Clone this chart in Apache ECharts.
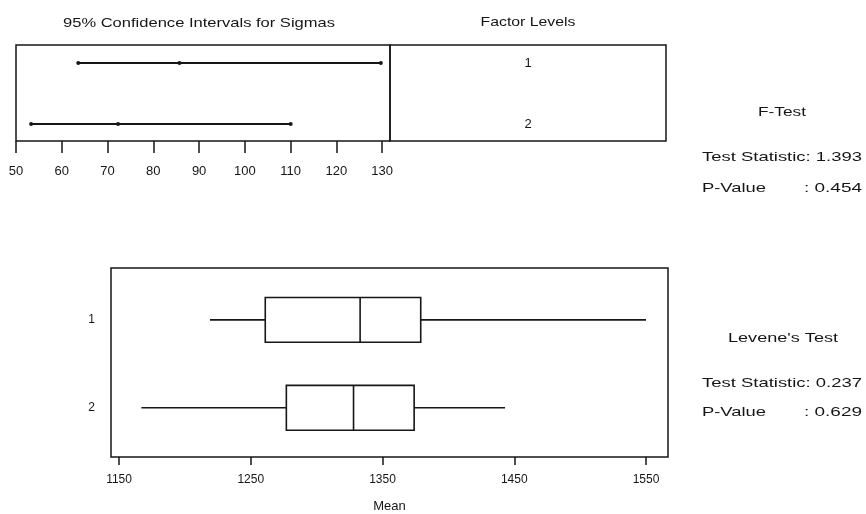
<!DOCTYPE html>
<html><head><meta charset="utf-8">
<script src="https://cdn.jsdelivr.net/npm/echarts@6/dist/echarts.min.js"></script>
<style>html,body{margin:0;padding:0;background:#fff}#c{width:866px;height:514px}</style>
</head><body><div id="c"></div>
<script>
// ---- data ----
const factorLevels = ['1', '2'];
const sigmaLower  = [63.6, 53.3];
const sigmaCenter = [85.7, 72.3];
const sigmaUpper  = [129.7, 110.0];
const sigmaTicks  = [50, 60, 70, 80, 90, 100, 110, 120, 130];
const boxMin    = [1219, 1167];
const boxQ1     = [1261, 1277];
const boxMedian = [1333, 1328];
const boxQ3     = [1379, 1374];
const boxMax    = [1550, 1443];
const meanTicks = [1150, 1250, 1350, 1450, 1550];
const fTestStat = '1.393', fTestP = '0.454';
const leveneStat = '0.237', leveneP = '0.629';

// ---- chart ----
const FONT = '"Liberation Sans", Arial, sans-serif';
const ink = '#161616';
const chart = echarts.init(document.getElementById('c'), null, {renderer: 'canvas'});

const intervalData = factorLevels.map((f, i) => [i + 1, sigmaLower[i], sigmaCenter[i], sigmaUpper[i]]);
const boxData = factorLevels.map((f, i) => [i + 1, boxMin[i], boxQ1[i], boxMedian[i], boxQ3[i], boxMax[i]]);

const option = {
  animation: false,
  backgroundColor: '#fff',
  textStyle: {fontFamily: FONT},
  grid: [
    {left: 16, top: 45, width: 374, height: 96, show: true, borderColor: ink, borderWidth: 1.5, backgroundColor: 'transparent'},
    {left: 111, top: 268, width: 557, height: 189, show: true, borderColor: ink, borderWidth: 1.5, backgroundColor: 'transparent'}
  ],
  xAxis: [
    {gridIndex: 0, type: 'value', min: 50, max: 131.7,
      axisLine: {show: false}, splitLine: {show: false},
      axisTick: {show: true, length: 12, customValues: sigmaTicks, lineStyle: {color: ink, width: 1.5}},
      axisLabel: {customValues: sigmaTicks, formatter: v => String(v), margin: 24, fontSize: 13, color: ink, fontFamily: FONT}},
    {gridIndex: 1, type: 'value', min: 1143.9, max: 1566.7,
      name: 'Mean', nameLocation: 'middle', nameGap: 43,
      nameTextStyle: {fontSize: 13, color: ink, fontFamily: FONT},
      axisLine: {show: false}, splitLine: {show: false},
      axisTick: {show: true, length: 8, customValues: meanTicks, lineStyle: {color: ink, width: 1.5}},
      axisLabel: {customValues: meanTicks, formatter: v => String(v), margin: 17, fontSize: 12, color: ink, fontFamily: FONT}}
  ],
  yAxis: [
    {gridIndex: 0, type: 'value', inverse: true, min: 0.705, max: 2.28, show: false},
    {gridIndex: 1, type: 'value', inverse: true, min: 0.41, max: 2.56,
      axisLine: {show: false}, axisTick: {show: false}, splitLine: {show: false},
      axisLabel: {customValues: [1, 2], formatter: v => factorLevels[Math.round(v) - 1],
        margin: 16, fontSize: 12, color: ink, fontFamily: FONT}}
  ],
  series: [
    {
      type: 'custom', xAxisIndex: 0, yAxisIndex: 0, data: intervalData,
      encode: {x: [1, 2, 3], y: 0},
      renderItem: (params, api) => {
        const y = api.value(0);
        const lo = api.coord([api.value(1), y]);
        const ce = api.coord([api.value(2), y]);
        const hi = api.coord([api.value(3), y]);
        const dot = p => ({type: 'circle', shape: {cx: p[0], cy: p[1], r: 2}, style: {fill: ink}});
        return {type: 'group', children: [
          {type: 'line', shape: {x1: lo[0], y1: lo[1], x2: hi[0], y2: hi[1]}, style: {stroke: ink, lineWidth: 2}},
          dot(lo), dot(ce), dot(hi)
        ]};
      }
    },
    {
      type: 'custom', xAxisIndex: 1, yAxisIndex: 1, data: boxData,
      encode: {x: [1, 2, 3, 4, 5], y: 0},
      renderItem: (params, api) => {
        const y = api.value(0);
        const h = 0.255;
        const mn = api.coord([api.value(1), y]);
        const q1t = api.coord([api.value(2), y - h]);
        const q1b = api.coord([api.value(2), y + h]);
        const mdt = api.coord([api.value(3), y - h]);
        const mdb = api.coord([api.value(3), y + h]);
        const q3t = api.coord([api.value(4), y - h]);
        const mx = api.coord([api.value(5), y]);
        const st = {stroke: ink, lineWidth: 1.6, fill: null};
        return {type: 'group', children: [
          {type: 'line', shape: {x1: mn[0], y1: mn[1], x2: q1t[0], y2: mn[1]}, style: st},
          {type: 'line', shape: {x1: q3t[0], y1: mx[1], x2: mx[0], y2: mx[1]}, style: st},
          {type: 'rect', shape: {x: q1t[0], y: Math.min(q1t[1], q1b[1]), width: q3t[0] - q1t[0], height: Math.abs(q1b[1] - q1t[1])}, style: st},
          {type: 'line', shape: {x1: mdt[0], y1: mdt[1], x2: mdb[0], y2: mdb[1]}, style: st}
        ]};
      }
    }
  ]
};
chart.setOption(option);

// ---- annotations ----
const ctx = document.createElement('canvas').getContext('2d');
function txt(str, x, y, size, align, targetW) {
  const font = size + 'px ' + FONT;
  ctx.font = font;
  const w = ctx.measureText(str).width;
  const sx = targetW ? targetW / w : 1;
  return {type: 'text', x: x, y: y, scaleX: sx, silent: true,
    style: {text: str, x: 0, y: 0, fill: ink, font: font, align: align, verticalAlign: 'middle'}};
}
const lvlPts = factorLevels.map((f, i) => chart.convertToPixel({gridIndex: 0}, [50, i + 1]));
const graphics = [
  txt('95% Confidence Intervals for Sigmas', 199, 23, 13, 'center', 272),
  txt('Factor Levels', 528, 22, 13, 'center', 95),
  {type: 'rect', shape: {x: 390, y: 45, width: 276, height: 96}, style: {stroke: ink, lineWidth: 1.5, fill: null}, silent: true},
  ...factorLevels.map((f, i) => txt(f, 528, lvlPts[i][1], 13, 'center', 0)),
  txt('F-Test', 782, 112, 13, 'center', 48),
  txt('Test Statistic: ' + fTestStat, 702, 157, 13, 'left', 160),
  txt('P-Value', 702, 188, 13, 'left', 64),
  txt(': ' + fTestP, 804, 188, 13, 'left', 58),
  txt("Levene's Test", 783, 338, 13, 'center', 110),
  txt('Test Statistic: ' + leveneStat, 702, 383, 13, 'left', 160),
  txt('P-Value', 702, 412, 13, 'left', 64),
  txt(': ' + leveneP, 804, 412, 13, 'left', 58)
];
chart.setOption({graphic: graphics});
</script>
</body></html>
